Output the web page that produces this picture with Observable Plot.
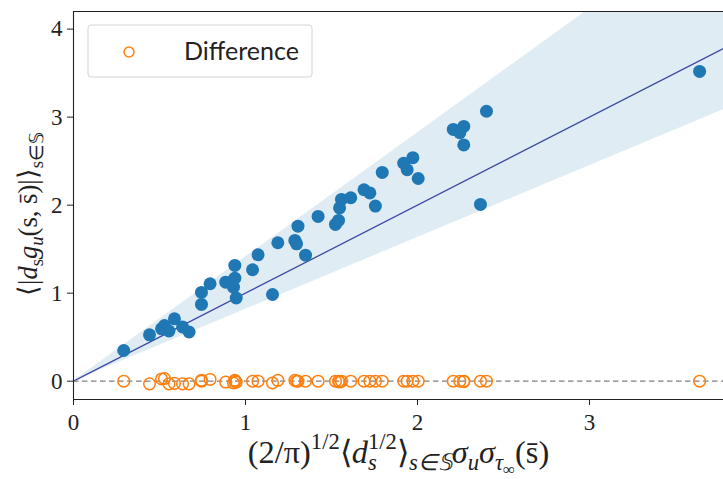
<!DOCTYPE html>
<html>
<head>
<meta charset="utf-8">
<script src="https://cdn.jsdelivr.net/npm/d3@7"></script>
<script src="https://cdn.jsdelivr.net/npm/@observablehq/plot@0.6"></script>
<style>
  html, body { margin: 0; padding: 0; background: #fff; }
  #chart svg { display: block; }
</style>
</head>
<body>
<div id="chart"></div>
<script>
// ---- data ----
const xVals = [0.292, 0.442, 0.512, 0.529, 0.555, 0.587, 0.634, 0.672, 0.744, 0.744,
               0.794, 0.885, 0.930, 0.938, 0.938, 0.946, 1.041, 1.073, 1.157, 1.188,
               1.287, 1.297, 1.305, 1.349, 1.422, 1.523, 1.541, 1.547, 1.558, 1.612,
               1.689, 1.723, 1.755, 1.795, 1.920, 1.940, 1.973, 2.004, 2.208, 2.246,
               2.269, 2.269, 2.366, 2.401, 3.640];
const yVals = [0.349, 0.527, 0.595, 0.633, 0.570, 0.709, 0.616, 0.559, 0.872, 1.008,
               1.107, 1.125, 1.068, 1.170, 1.315, 0.945, 1.266, 1.436, 0.985, 1.573,
               1.599, 1.561, 1.761, 1.432, 1.872, 1.781, 1.826, 1.968, 2.065, 2.084,
               2.175, 2.139, 1.989, 2.372, 2.477, 2.402, 2.539, 2.303, 2.860, 2.823,
               2.894, 2.684, 2.008, 3.067, 3.519];
const diffVals = [0.000, -0.030, 0.025, 0.030, -0.030, -0.025, -0.030, -0.030, 0.010, 0.000,
                  0.020, -0.010, -0.020, 0.000, 0.010, -0.010, 0.000, 0.000, -0.020, 0.010,
                  0.010, 0.000, 0.000, 0.000, 0.000, 0.000, 0.000, -0.010, 0.000, 0.000,
                  0.000, 0.000, 0.000, 0.000, 0.000, 0.000, 0.000, 0.000, 0.000, 0.000,
                  0.000, -0.005, 0.000, 0.000, 0.000];
// identity line and shaded band
const lineX = [0, 3.80];
const lineY = [0, 3.80];
const bandLow  = [0, 3.10];
const bandHigh = [0, 5.36];
const xTicks = [0, 1, 2, 3];
const yTicks = [0, 1, 2, 3, 4];

const points = xVals.map((x, i) => ({x, y: yVals[i], d: diffVals[i]}));
const lineData = lineX.map((x, i) => ({x, y: lineY[i], lo: bandLow[i], hi: bandHigh[i]}));

// pick an installed serif font (canvas width test)
function hasFont(name) {
  const c = document.createElement("canvas").getContext("2d");
  const s = "mmmmmmmmmmlli1WQ0123456789abc";
  for (const base of ["monospace", "sans-serif"]) {
    c.font = "72px " + base;
    const w0 = c.measureText(s).width;
    c.font = "72px '" + name + "', " + base;
    if (c.measureText(s).width === w0) return false;
  }
  return true;
}
const serifName = ["Liberation Serif", "DejaVu Serif", "Times New Roman", "Noto Serif", "Tinos"].find(hasFont);
const serif = serifName ? `'${serifName}', serif` : "Lato, sans-serif";

const X0 = 0, X1 = 3.779, Y0 = -0.208, Y1 = 4.2;

const chart = Plot.plot({
  width: 723,
  height: 479,
  marginLeft: 73,
  marginRight: 0,
  marginTop: 11,
  marginBottom: 80,
  x: {domain: [X0, X1]},
  y: {domain: [Y0, Y1]},
  style: {fontFamily: serif, color: "#222", background: "#fff"},
  marks: [
    Plot.areaY(lineData, {x: "x", y1: "lo", y2: "hi", fill: "#1f77b4", fillOpacity: 0.14, clip: true}),
    Plot.line(lineData, {x: "x", y: "y", stroke: "#3d4aa3", strokeWidth: 1.3, clip: true}),
    Plot.ruleY([0], {stroke: "#808080", strokeWidth: 1.3, strokeDasharray: "5.5,3.5"}),
    Plot.dot(points, {x: "x", y: "y", r: 6.5, fill: "#1f77b4", stroke: "none"}),
    Plot.dot(points, {x: "x", y: "d", r: 5.8, fill: "none", stroke: "#ff7f0e", strokeWidth: 1.5}),
    Plot.ruleX([X0], {stroke: "#222", strokeWidth: 1.1}),
    Plot.ruleY([Y0], {stroke: "#222", strokeWidth: 1.1}),
    Plot.ruleY([Y1], {stroke: "#222", strokeWidth: 1.1}),
    Plot.axisX({ticks: xTicks, tickFormat: "d", tickSize: 6, tickPadding: 8, fontSize: 23, label: null, stroke: "#222"}),
    Plot.axisY({ticks: yTicks, tickFormat: "d", tickSize: 6, tickPadding: 5, fontSize: 23, label: null, stroke: "#222"})
  ]
});
document.getElementById("chart").appendChild(chart);

const svg = d3.select(chart);
svg.selectAll("text").style("font-family", serif).style("font-weight", "normal");

// ---- math-like axis labels as real text ----
function mathText(g, parts, size) {
  const t = g.append("text").style("font-family", serif).attr("font-size", size)
    .attr("fill", "#222").attr("text-anchor", "start");
  const shift = {"-1": -0.42, "0": 0, "1": 0.22, "2": 0.36};
  let level = 0;
  for (const p of parts) {
    const target = p.lvl || 0;
    const dy = (shift[String(target)] - shift[String(level)]) * size;
    level = target;
    const s = t.append("tspan").text(p.t);
    if (dy) s.attr("dy", dy);
    if (p.dx) s.attr("dx", p.dx * size);
    if (p.it) s.style("font-style", "italic");
    s.attr("font-size", target === 0 ? size : target === 2 ? size * 0.52 : size * 0.7);
  }
  return t;
}
// scale text so its extent along the baseline equals `target`, centred on the group origin
function fitLabel(g, parts, target) {
  let t = mathText(g, parts, 26);
  let bb = t.node().getBBox();
  const size = 26 * target / bb.width;
  t.remove();
  t = mathText(g, parts, size);
  bb = t.node().getBBox();
  t.attr("x", -(bb.x + bb.width / 2));
  return t;
}

const xParts = [
  {t: "(2/π)"},
  {t: "1/2", lvl: -1},
  {t: "⟨"},
  {t: "d", it: true},
  {t: "s", lvl: 1, it: true},
  {t: "1/2", lvl: -1, dx: -0.27},
  {t: "⟩"},
  {t: "s∈𝕊", lvl: 1, it: true},
  {t: "σ", it: true},
  {t: "u", lvl: 1, it: true},
  {t: "σ", it: true},
  {t: "τ", lvl: 1, it: true},
  {t: "∞", lvl: 2},
  {t: "(s\u0304)"}
];
const yParts = [
  {t: "⟨|"},
  {t: "d", it: true},
  {t: "s", lvl: 1},
  {t: "g", it: true},
  {t: "u", lvl: 1, it: true},
  {t: "(s, s\u0304)|⟩"},
  {t: "s∈𝕊", lvl: 1}
];

const gx = svg.append("g").attr("transform", "translate(398.5,463)");
fitLabel(gx, xParts, 303);
const gy = svg.append("g").attr("transform", "translate(37,214) rotate(-90)");
fitLabel(gy, yParts, 161);

// legend
const lg = svg.append("g");
lg.append("rect").attr("x", 88).attr("y", 25).attr("width", 224).attr("height", 52)
  .attr("rx", 3).attr("fill", "#fff").attr("fill-opacity", 0.8).attr("stroke", "#d4d4d4").attr("stroke-width", 1);
lg.append("circle").attr("cx", 129).attr("cy", 52).attr("r", 5)
  .attr("fill", "none").attr("stroke", "#ff7f0e").attr("stroke-width", 1.5);
lg.append("text").attr("x", 184).attr("y", 60).attr("text-anchor", "start")
  .style("font-family", "Lato, 'Open Sans', sans-serif")
  .attr("font-size", 25).attr("fill", "#222").text("Difference");
</script>
</body>
</html>
